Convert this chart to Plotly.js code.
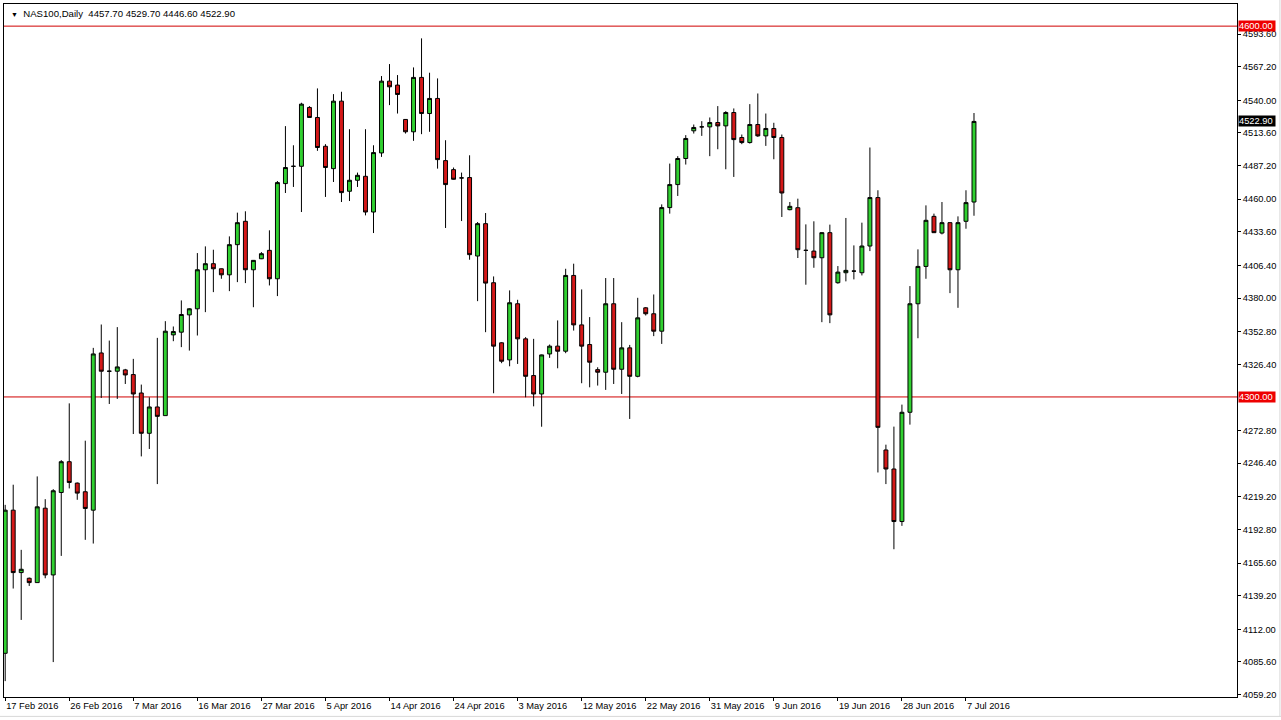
<!DOCTYPE html>
<html>
<head>
<meta charset="utf-8">
<script src="https://cdn.plot.ly/plotly-3.0.1.min.js"></script>
<style>
  html, body { margin: 0; padding: 0; background: #ffffff; }
  #chart { width: 1281px; height: 720px; }
</style>
</head>
<body>
<div id="chart"></div>
<script>
// ---- data ----
const symbolName = "NAS100,Daily";

const dates = [
  "17 Feb 2016","18 Feb 2016","19 Feb 2016","21 Feb 2016","22 Feb 2016","23 Feb 2016","24 Feb 2016","25 Feb 2016",
  "26 Feb 2016","28 Feb 2016","29 Feb 2016","1 Mar 2016","2 Mar 2016","3 Mar 2016","4 Mar 2016","6 Mar 2016",
  "7 Mar 2016","8 Mar 2016","9 Mar 2016","10 Mar 2016","11 Mar 2016","13 Mar 2016","14 Mar 2016","15 Mar 2016",
  "16 Mar 2016","17 Mar 2016","18 Mar 2016","20 Mar 2016","21 Mar 2016","22 Mar 2016","23 Mar 2016","24 Mar 2016",
  "27 Mar 2016","28 Mar 2016","29 Mar 2016","30 Mar 2016","31 Mar 2016","1 Apr 2016","3 Apr 2016","4 Apr 2016",
  "5 Apr 2016","6 Apr 2016","7 Apr 2016","8 Apr 2016","10 Apr 2016","11 Apr 2016","12 Apr 2016","13 Apr 2016",
  "14 Apr 2016","15 Apr 2016","17 Apr 2016","18 Apr 2016","19 Apr 2016","20 Apr 2016","21 Apr 2016","22 Apr 2016",
  "24 Apr 2016","25 Apr 2016","26 Apr 2016","27 Apr 2016","28 Apr 2016","29 Apr 2016","1 May 2016","2 May 2016",
  "3 May 2016","4 May 2016","5 May 2016","6 May 2016","8 May 2016","9 May 2016","10 May 2016","11 May 2016",
  "12 May 2016","13 May 2016","15 May 2016","16 May 2016","17 May 2016","18 May 2016","19 May 2016","20 May 2016",
  "22 May 2016","23 May 2016","24 May 2016","25 May 2016","26 May 2016","27 May 2016","29 May 2016","30 May 2016",
  "31 May 2016","1 Jun 2016","2 Jun 2016","3 Jun 2016","5 Jun 2016","6 Jun 2016","7 Jun 2016","8 Jun 2016",
  "9 Jun 2016","10 Jun 2016","12 Jun 2016","13 Jun 2016","14 Jun 2016","15 Jun 2016","16 Jun 2016","17 Jun 2016",
  "19 Jun 2016","20 Jun 2016","21 Jun 2016","22 Jun 2016","23 Jun 2016","24 Jun 2016","26 Jun 2016","27 Jun 2016",
  "28 Jun 2016","29 Jun 2016","30 Jun 2016","1 Jul 2016","3 Jul 2016","4 Jul 2016","5 Jul 2016","6 Jul 2016",
  "7 Jul 2016","8 Jul 2016"
];

const openVals = [
  4092.6,4208.4,4157.9,4153.3,4149.8,4210.0,4156.0,4222.7,4247.6,4230.3,4223.3,4208.4,4335.6,4320.8,4320.8,4321.9,
  4318.1,4303.2,4270.6,4291.9,4284.9,4350.2,4352.4,4366.4,4371.3,4402.9,4407.8,4403.7,4398.8,4423.2,4442.1,4402.9,
  4411.8,4418.6,4395.6,4472.6,4486.6,4486.6,4534.2,4526.1,4502.8,4484.7,4539.3,4466.4,4475.3,4478.5,4449.6,4497.4,
  4555.5,4552.3,4524.5,4514.5,4558.5,4529.3,4541.5,4491.2,4483.9,4477.2,4477.5,4414.0,4440.2,4392.4,4343.8,4330.0,
  4375.4,4347.0,4317.3,4302.4,4334.8,4341.1,4337.0,4398.3,4358.3,4342.4,4322.1,4320.0,4375.4,4322.4,4339.7,4316.7,
  4372.1,4367.3,4353.2,4453.2,4471.8,4492.9,4515.3,4518.5,4518.5,4522.0,4519.3,4530.1,4509.9,4505.8,4520.4,4511.2,
  4517.2,4509.9,4451.5,4453.1,4418.6,4418.0,4412.6,4432.9,4392.4,4400.5,4401.8,4400.5,4422.1,4461.3,4257.1,4241.7,
  4199.2,4287.6,4375.4,4405.6,4446.1,4432.6,4441.0,4402.9,4442.1,4457.7
];
const highVals = [
  4212.7,4229.0,4176.3,4153.9,4235.7,4217.3,4225.4,4248.9,4294.8,4230.8,4264.6,4339.7,4358.6,4345.6,4356.5,4322.7,
  4330.8,4310.0,4299.7,4347.8,4361.3,4357.0,4378.1,4371.8,4416.4,4421.8,4419.1,4403.9,4429.9,4449.1,4450.2,4410.8,
  4417.2,4434.8,4474.7,4519.1,4503.6,4538.0,4535.3,4549.6,4504.5,4545.0,4546.9,4516.6,4481.5,4516.6,4503.6,4559.6,
  4569.3,4560.4,4524.8,4566.6,4590.1,4562.3,4557.7,4507.7,4485.6,4481.5,4495.5,4441.5,4448.8,4397.5,4344.3,4386.2,
  4378.6,4348.4,4347.0,4334.3,4342.4,4361.9,4403.7,4407.8,4387.0,4364.6,4324.0,4396.2,4396.2,4360.5,4342.1,4380.2,
  4372.7,4382.9,4455.8,4488.8,4494.8,4511.8,4520.4,4523.1,4526.1,4535.3,4531.2,4533.4,4512.3,4536.9,4545.5,4529.3,
  4521.8,4512.3,4457.7,4460.4,4439.6,4442.1,4433.2,4439.4,4405.9,4444.8,4422.6,4441.0,4501.8,4467.2,4261.4,4276.0,
  4293.8,4389.7,4419.4,4455.0,4448.3,4457.7,4441.3,4446.1,4467.2,4529.7
];
const lowVals = [
  4070.1,4145.0,4119.6,4147.1,4149.8,4153.3,4085.5,4171.4,4226.0,4216.8,4184.4,4181.4,4299.2,4294.3,4298.4,4310.5,
  4270.0,4251.9,4257.9,4229.5,4284.9,4345.1,4340.3,4337.5,4349.7,4368.6,4384.8,4395.6,4385.6,4392.9,4392.1,4372.6,
  4411.5,4390.2,4381.6,4465.0,4469.9,4449.6,4525.8,4499.1,4461.8,4473.9,4457.7,4458.5,4469.9,4446.9,4432.6,4494.2,
  4536.1,4529.3,4513.1,4507.2,4512.6,4514.5,4484.7,4436.7,4475.8,4442.3,4411.0,4377.5,4352.4,4303.0,4327.3,4324.8,
  4326.7,4299.7,4292.4,4275.9,4331.6,4323.2,4335.4,4353.7,4311.1,4307.8,4309.2,4305.7,4310.5,4302.4,4282.2,4315.9,
  4365.9,4349.2,4342.9,4448.3,4462.6,4488.0,4513.1,4511.2,4494.8,4500.4,4484.2,4478.0,4504.5,4505.0,4510.4,4503.1,
  4492.3,4445.6,4451.0,4412.4,4390.8,4404.5,4360.5,4359.7,4391.6,4393.5,4395.1,4398.3,4418.0,4238.9,4229.5,4176.8,
  4195.7,4277.6,4347.5,4395.6,4432.6,4431.5,4384.0,4372.1,4436.1,4446.6
];
const closeVals = [
  4208.4,4157.9,4160.6,4149.8,4211.1,4156.0,4224.1,4247.6,4230.8,4222.2,4209.8,4334.8,4320.8,4320.8,4324.3,4317.8,
  4302.4,4270.6,4291.9,4284.3,4353.2,4352.9,4366.7,4371.3,4402.9,4407.8,4403.7,4398.8,4423.2,4441.0,4402.9,4410.5,
  4415.9,4395.6,4473.4,4485.6,4486.6,4536.9,4526.1,4501.8,4485.6,4539.3,4465.3,4475.3,4479.3,4449.6,4497.7,4555.5,
  4550.9,4544.7,4514.5,4558.5,4529.3,4541.5,4492.0,4471.8,4476.1,4477.2,4415.1,4440.2,4392.1,4341.1,4328.9,4376.2,
  4347.0,4316.7,4302.4,4334.0,4341.1,4337.0,4398.3,4358.3,4341.1,4328.1,4320.0,4375.4,4322.4,4339.7,4316.7,4364.0,
  4367.3,4353.2,4453.2,4471.8,4492.9,4509.1,4518.0,4518.5,4522.0,4519.3,4530.1,4508.2,4505.8,4520.4,4511.2,4517.2,
  4509.9,4465.0,4454.2,4419.1,4418.6,4412.6,4432.9,4366.4,4401.0,4402.4,4401.8,4422.1,4461.3,4275.4,4241.7,4199.2,
  4287.6,4375.4,4405.6,4442.9,4432.9,4441.0,4402.9,4441.0,4457.2,4522.9
];

// price axis tick labels (as printed by the terminal)
const priceTicks = [4593.6,4567.2,4540.0,4513.6,4487.2,4460.0,4433.6,4406.4,4380.0,4352.8,4326.4,
                    4272.8,4246.4,4219.2,4192.8,4165.6,4139.2,4112.0,4085.6,4059.2];
// horizontal levels drawn on the chart
const levels = [4600, 4300];
// every 8th bar carries a date label
const dateLabelStep = 8;

// ---- build ----
const tickDates = dates.filter((d, i) => i % dateLabelStep === 0);
const last = dates.length - 1;
const fmt = v => v.toFixed(2);

const trace = {
  type: 'candlestick',
  x: dates,
  open: openVals, high: highVals, low: lowVals, close: closeVals,
  increasing: { line: { color: '#000000', width: 1 }, fillcolor: '#30d030' },
  decreasing: { line: { color: '#000000', width: 1 }, fillcolor: '#d41818' },
  whiskerwidth: 0,
  hoverinfo: 'none'
};

const axisFont = { family: 'Liberation Sans, Arial, sans-serif', size: 9.3, color: '#000000' };

const shapes = levels.map(v => ({
  type: 'line', xref: 'paper', x0: 0, x1: 1, yref: 'y', y0: v, y1: v,
  line: { color: '#d00000', width: 1 }, layer: 'below'
}));
// window frame lines (light grey) at bottom and right of the window
shapes.push({ type: 'line', xref: 'paper', yref: 'paper', x0: -0.01, x1: 1.0357, y0: -0.028, y1: -0.028,
  line: { color: '#d8d8d8', width: 1 } });
shapes.push({ type: 'line', xref: 'paper', yref: 'paper', x0: 1.0348, x1: 1.0348, y0: -0.028, y1: 1.01,
  line: { color: '#d8d8d8', width: 1 } });

const annotations = levels.map(v => ({
  xref: 'paper', x: 1, xanchor: 'left', yref: 'y', y: v, yanchor: 'middle',
  text: fmt(v) + ' ', showarrow: false, bgcolor: '#ee0000', borderpad: 0, xshift: 1,
  font: { family: axisFont.family, size: 9.3, color: '#ffffff' }
}));
annotations.push({
  xref: 'paper', x: 1, xanchor: 'left', yref: 'y', y: closeVals[last], yanchor: 'middle',
  text: fmt(closeVals[last]) + ' ', showarrow: false, bgcolor: '#000000', borderpad: 0, xshift: 1,
  font: { family: axisFont.family, size: 9.3, color: '#ffffff' }
});
annotations.push({
  xref: 'paper', x: 0, xanchor: 'left', yref: 'paper', y: 1, yanchor: 'top',
  xshift: 5, yshift: -2,
  text: '<span style="font-size:7px">\u25BC</span>  ' + symbolName + '&nbsp;&nbsp;' +
        [openVals[last], highVals[last], lowVals[last], closeVals[last]].map(fmt).join(' '),
  showarrow: false,
  font: { family: axisFont.family, size: 9.6, color: '#000000' }
});

const layout = {
  width: 1281, height: 720,
  margin: { l: 4, r: 44, t: 4, b: 23, pad: 0 },
  paper_bgcolor: '#ffffff', plot_bgcolor: '#ffffff',
  showlegend: false,
  boxgap: 0.3, boxgroupgap: 0.3,
  xaxis: {
    type: 'category',
    range: [-0.15, 153.85],
    rangeslider: { visible: false },
    tickmode: 'array', tickvals: tickDates, ticktext: tickDates,
    ticks: 'outside', ticklen: 3, tickcolor: '#000000', tickwidth: 1,
    ticklabelposition: 'outside right',
    showgrid: false, zeroline: false,
    showline: true, linecolor: '#000000', linewidth: 1, mirror: true,
    tickfont: axisFont, fixedrange: true
  },
  yaxis: {
    side: 'right',
    range: [4057.25, 4617.9],
    tickmode: 'array', tickvals: priceTicks, ticktext: priceTicks.map(fmt),
    ticks: 'outside', ticklen: 3, tickcolor: '#000000', tickwidth: 1,
    showgrid: false, zeroline: false,
    showline: true, linecolor: '#000000', linewidth: 1, mirror: true,
    tickfont: axisFont, fixedrange: true
  },
  shapes: shapes,
  annotations: annotations
};

Plotly.newPlot('chart', [trace], layout, { displayModeBar: false, staticPlot: true });
</script>
</body>
</html>
